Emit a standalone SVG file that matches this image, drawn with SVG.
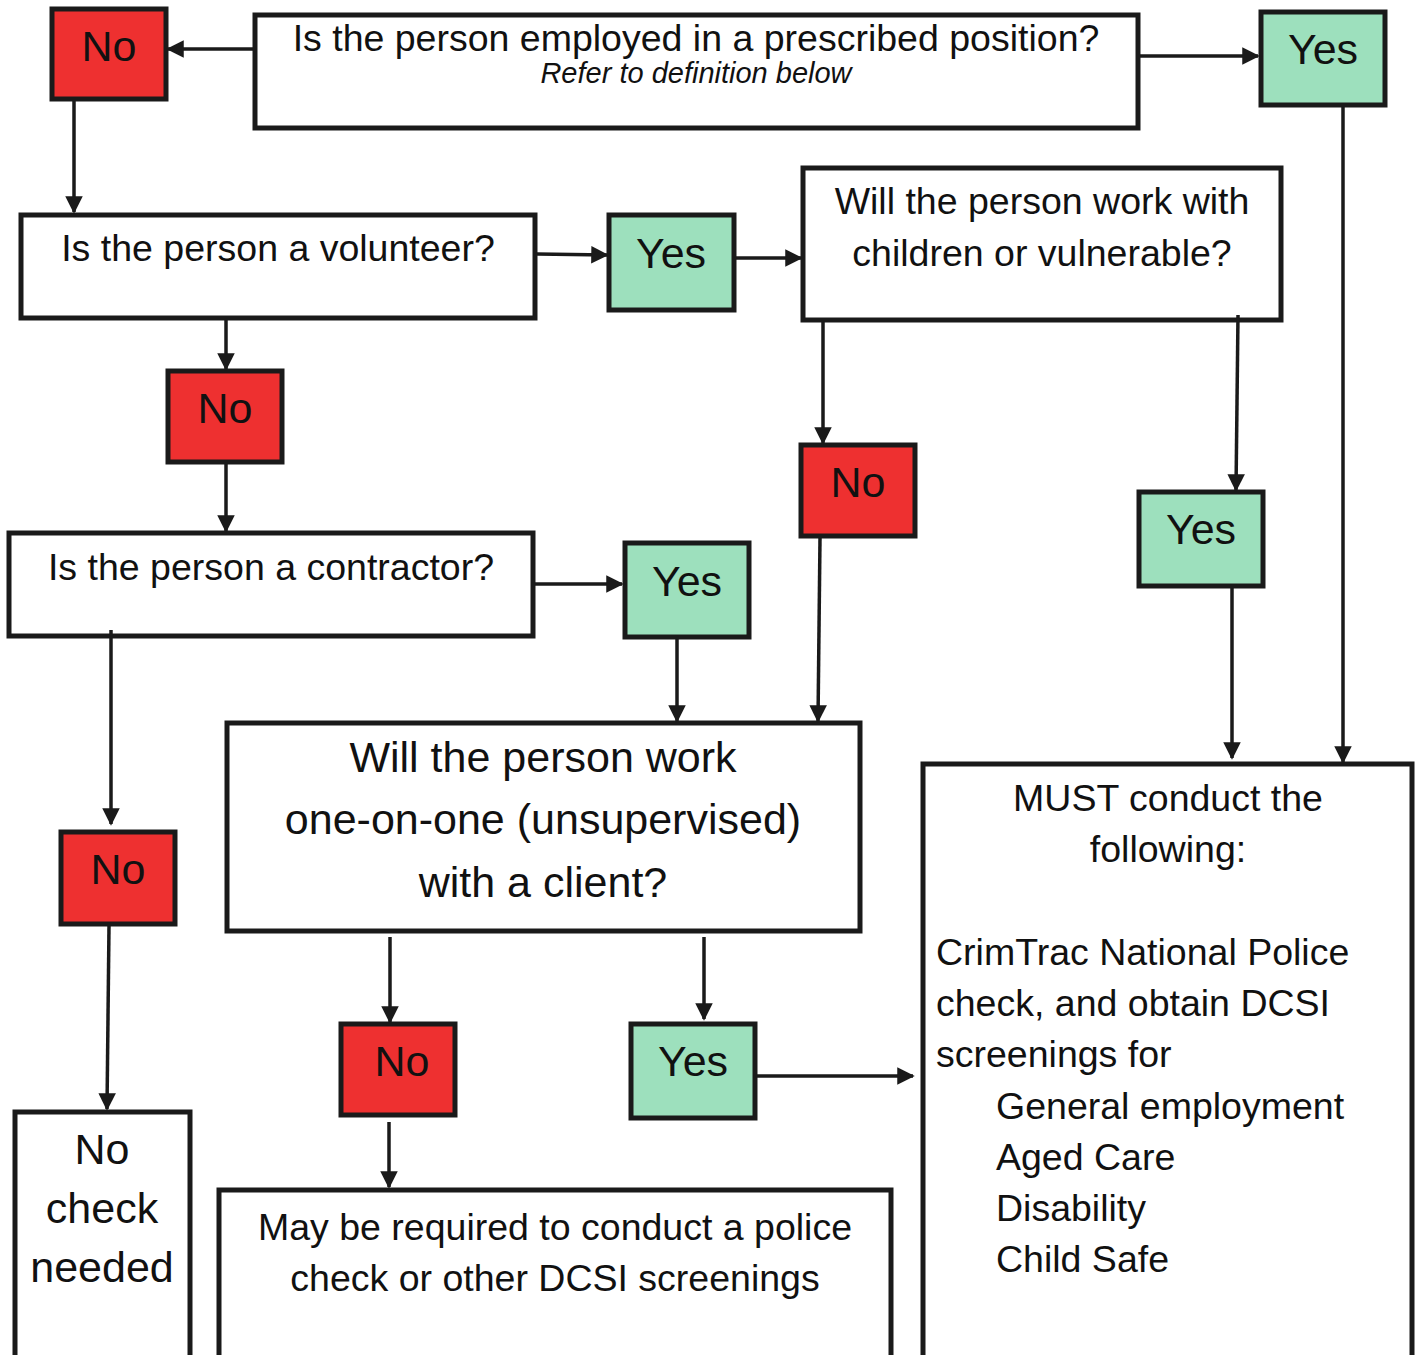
<svg xmlns="http://www.w3.org/2000/svg" width="1420" height="1355" viewBox="0 0 1420 1355">
<style>
.box{fill:#fff;stroke:#1a1a1a;stroke-width:5}
.no{fill:#ee3030;stroke:#1a1a1a;stroke-width:5}
.yes{fill:#9de0bd;stroke:#1a1a1a;stroke-width:5}
.lbl{font-family:"Liberation Sans",Arial,sans-serif;fill:#111;text-anchor:middle}
.t{font-family:"Liberation Sans",Arial,sans-serif;fill:#111}
.c line{stroke:#1a1a1a;stroke-width:3.5;marker-end:url(#ah)}
</style>
<defs>
<marker id="ah" viewBox="0 0 10 10" refX="9" refY="5" markerWidth="5" markerHeight="5" orient="auto" markerUnits="strokeWidth">
<path d="M0,0 L10,5 L0,10 z" fill="#1a1a1a"/>
</marker>
</defs>
<rect width="1420" height="1355" fill="#fff"/>
<g id="q-prescribed"><rect class="box" x="255" y="15" width="883" height="113"/>
<text class="lbl" x="696" y="51" font-size="37.5">Is the person employed in a prescribed position?</text>
<text class="lbl" x="696" y="83" font-size="29" font-style="italic">Refer to definition below</text></g>
<g id="no1"><rect class="no" x="52" y="9" width="114" height="90"/><text class="lbl" x="109" y="61" font-size="43">No</text></g>
<g id="yes1"><rect class="yes" x="1261" y="12" width="124" height="93"/><text class="lbl" x="1323" y="64" font-size="43">Yes</text></g>
<g id="q-volunteer"><rect class="box" x="21" y="215" width="514" height="103"/><text class="lbl" x="278" y="261" font-size="37.5">Is the person a volunteer?</text></g>
<g id="yes2"><rect class="yes" x="609" y="215" width="125" height="95"/><text class="lbl" x="671" y="268" font-size="43">Yes</text></g>
<g id="q-children"><rect class="box" x="803" y="168" width="478" height="152"/>
<text class="lbl" x="1042" y="214" font-size="37.5">Will the person work with</text>
<text class="lbl" x="1042" y="266" font-size="37.5">children or vulnerable?</text></g>
<g id="no2"><rect class="no" x="168" y="371" width="114" height="91"/><text class="lbl" x="225" y="423" font-size="43">No</text></g>
<g id="q-contractor"><rect class="box" x="9" y="533" width="524" height="103"/><text class="lbl" x="271" y="580" font-size="37.5">Is the person a contractor?</text></g>
<g id="yes3"><rect class="yes" x="625" y="543" width="124" height="94"/><text class="lbl" x="687" y="596" font-size="43">Yes</text></g>
<g id="no3"><rect class="no" x="801" y="445" width="114" height="91"/><text class="lbl" x="858" y="497" font-size="43">No</text></g>
<g id="yes4"><rect class="yes" x="1139" y="492" width="124" height="94"/><text class="lbl" x="1201" y="544" font-size="43">Yes</text></g>
<g id="q-oneonone"><rect class="box" x="227" y="723" width="633" height="208"/>
<text class="lbl" x="543" y="772" font-size="43">Will the person work</text>
<text class="lbl" x="543" y="834" font-size="43">one-on-one (unsupervised)</text>
<text class="lbl" x="543" y="897" font-size="43">with a client?</text></g>
<g id="no4"><rect class="no" x="61" y="832" width="114" height="92"/><text class="lbl" x="118" y="884" font-size="43">No</text></g>
<g id="no5"><rect class="no" x="341" y="1024" width="114" height="91"/><text class="lbl" x="402" y="1076" font-size="43">No</text></g>
<g id="yes5"><rect class="yes" x="631" y="1024" width="124" height="94"/><text class="lbl" x="693" y="1076" font-size="43">Yes</text></g>
<g id="no-check"><rect class="box" x="15" y="1112" width="175" height="246"/>
<text class="lbl" x="102" y="1164" font-size="43">No</text>
<text class="lbl" x="102" y="1223" font-size="43">check</text>
<text class="lbl" x="102" y="1282" font-size="43">needed</text></g>
<g id="may-required"><rect class="box" x="219" y="1190" width="672" height="168"/>
<text class="lbl" x="555" y="1240" font-size="37.5">May be required to conduct a police</text>
<text class="lbl" x="555" y="1291" font-size="37.5">check or other DCSI screenings</text></g>
<g id="must"><rect class="box" x="923" y="764" width="489" height="594"/>
<text class="lbl" x="1168" y="811" font-size="37.5">MUST conduct the</text>
<text class="lbl" x="1168" y="862" font-size="37.5">following:</text>
<text class="t" x="936" y="965" font-size="37.5">CrimTrac National Police</text>
<text class="t" x="936" y="1016" font-size="37.5">check, and obtain DCSI</text>
<text class="t" x="936" y="1067" font-size="37.5">screenings for</text>
<text class="t" x="996" y="1119" font-size="37.5">General employment</text>
<text class="t" x="996" y="1170" font-size="37.5">Aged Care</text>
<text class="t" x="996" y="1221" font-size="37.5">Disability</text>
<text class="t" x="996" y="1272" font-size="37.5">Child Safe</text></g>
<g id="connectors" class="c">
<line x1="253" y1="49" x2="168" y2="49"/>
<line x1="1140" y1="56" x2="1258" y2="56"/>
<line x1="74" y1="101" x2="74" y2="212"/>
<line x1="537" y1="254" x2="607" y2="255"/>
<line x1="736" y1="258" x2="801" y2="258"/>
<line x1="226" y1="320" x2="226" y2="369"/>
<line x1="226" y1="464" x2="226" y2="531"/>
<line x1="535" y1="584" x2="622" y2="584"/>
<line x1="677" y1="639" x2="677" y2="721"/>
<line x1="823" y1="322" x2="823" y2="443"/>
<line x1="1238" y1="315" x2="1236" y2="490"/>
<line x1="820" y1="538" x2="818" y2="721"/>
<line x1="1232" y1="588" x2="1232" y2="758"/>
<line x1="1343" y1="107" x2="1343" y2="762"/>
<line x1="111" y1="630" x2="111" y2="824"/>
<line x1="109" y1="926" x2="107" y2="1109"/>
<line x1="390" y1="937" x2="390" y2="1022"/>
<line x1="704" y1="937" x2="704" y2="1019"/>
<line x1="389" y1="1122" x2="389" y2="1187"/>
<line x1="757" y1="1076" x2="913" y2="1076"/>
</g>
</svg>
